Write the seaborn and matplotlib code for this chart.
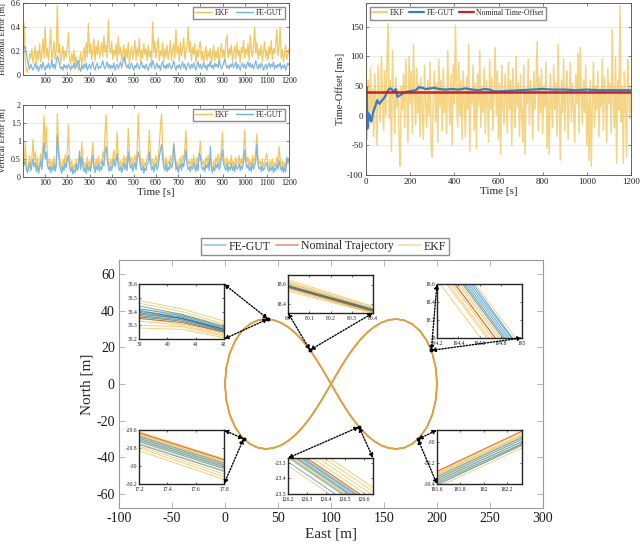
import numpy as np
import pandas as pd
import matplotlib
matplotlib.use('Agg')
import matplotlib.pyplot as plt
import seaborn as sns
from matplotlib.ticker import FuncFormatter
from matplotlib.patches import ConnectionPatch
from matplotlib.lines import Line2D

sns.set_style('ticks')
plt.rcParams['font.family'] = ['Liberation Serif', 'DejaVu Serif']
plt.rcParams['axes.unicode_minus'] = False

# ---------------- data ----------------
time_s = np.arange(0, 1201, 5)

horiz_ekf = [
    0.28, 0.43, 0.12, 0.04, 0.02, 0.08, 0.18, 0.14, 0.22, 0.10,
    0.16, 0.24, 0.09, 0.20, 0.13, 0.26, 0.11, 0.18, 0.30, 0.14,
    0.40, 0.15, 0.22, 0.12, 0.25, 0.38, 0.10, 0.19, 0.28, 0.13,
    0.21, 0.58, 0.18, 0.26, 0.09, 0.17, 0.24, 0.12, 0.20, 0.15,
    0.23, 0.35, 0.14, 0.09, 0.18, 0.11, 0.21, 0.07, 0.15, 0.10,
    0.04, 0.12, 0.19, 0.08, 0.16, 0.23, 0.11, 0.27, 0.15, 0.43,
    0.18, 0.26, 0.13, 0.22, 0.30, 0.12, 0.24, 0.17, 0.29, 0.14,
    0.20, 0.27, 0.15, 0.33, 0.19, 0.25, 0.14, 0.46, 0.22, 0.18,
    0.28, 0.13, 0.21, 0.16, 0.26, 0.11, 0.32, 0.17, 0.23, 0.12,
    0.19, 0.25, 0.10, 0.22, 0.14, 0.27, 0.09, 0.18, 0.24, 0.13,
    0.20, 0.29, 0.12, 0.23, 0.16, 0.30, 0.11, 0.21, 0.14, 0.26,
    0.17, 0.22, 0.12, 0.25, 0.15, 0.20, 0.10, 0.44, 0.19, 0.28,
    0.14, 0.23, 0.31, 0.12, 0.20, 0.16, 0.27, 0.11, 0.22, 0.15,
    0.25, 0.13, 0.19, 0.29, 0.12, 0.21, 0.26, 0.14, 0.38, 0.18,
    0.24, 0.11, 0.27, 0.16, 0.22, 0.31, 0.13, 0.20, 0.25, 0.40,
    0.19, 0.28, 0.12, 0.23, 0.17, 0.26, 0.10, 0.21, 0.15, 0.24,
    0.28, 0.13, 0.20, 0.09, 0.18, 0.24, 0.12, 0.19, 0.15, 0.22,
    0.10, 0.17, 0.25, 0.12, 0.20, 0.14, 0.23, 0.09, 0.18, 0.26,
    0.15, 0.21, 0.12, 0.28, 0.33, 0.14, 0.22, 0.17, 0.25, 0.11,
    0.19, 0.24, 0.13, 0.27, 0.16, 0.21, 0.10, 0.23, 0.18, 0.29,
    0.14, 0.22, 0.17, 0.26, 0.12, 0.33, 0.20, 0.15, 0.24, 0.40,
    0.18, 0.27, 0.13, 0.22, 0.16, 0.25, 0.11, 0.20, 0.28, 0.14,
    0.21, 0.12, 0.24, 0.17, 0.29, 0.13, 0.22, 0.18, 0.26, 0.38,
    0.16, 0.23, 0.40, 0.14, 0.21, 0.11, 0.19, 0.25, 0.13, 0.17,
    0.22]

horiz_gut = [
    0.26, 0.22, 0.24, 0.18, 0.12, 0.08, 0.05, 0.09, 0.06, 0.04,
    0.07, 0.10, 0.05, 0.08, 0.03, 0.06, 0.09, 0.05, 0.11, 0.07,
    0.04, 0.08, 0.06, 0.10, 0.05, 0.07, 0.12, 0.06, 0.09, 0.05,
    0.11, 0.16, 0.13, 0.08, 0.05, 0.07, 0.04, 0.09, 0.06, 0.08,
    0.05, 0.09, 0.07, 0.04, 0.08, 0.06, 0.10, 0.05, 0.07, 0.11,
    0.12, 0.06, 0.03, 0.08, 0.05, 0.09, 0.06, 0.10, 0.04, 0.07,
    0.09, 0.05, 0.08, 0.11, 0.06, 0.04, 0.08, 0.10, 0.05, 0.07,
    0.06, 0.09, 0.12, 0.07, 0.05, 0.08, 0.11, 0.06, 0.09, 0.05,
    0.08, 0.06, 0.10, 0.04, 0.07, 0.09, 0.05, 0.08, 0.11, 0.06,
    0.10, 0.15, 0.12, 0.08, 0.06, 0.09, 0.05, 0.07, 0.10, 0.06,
    0.04, 0.08, 0.06, 0.10, 0.07, 0.05, 0.09, 0.11, 0.06, 0.08,
    0.05, 0.09, 0.07, 0.04, 0.08, 0.10, 0.06, 0.12, 0.09, 0.05,
    0.07, 0.10, 0.06, 0.08, 0.04, 0.09, 0.11, 0.06, 0.08, 0.05,
    0.09, 0.06, 0.10, 0.07, 0.05, 0.08, 0.12, 0.07, 0.04, 0.08,
    0.06, 0.09, 0.05, 0.08, 0.11, 0.06, 0.09, 0.04, 0.07, 0.10,
    0.08, 0.05, 0.09, 0.06, 0.10, 0.07, 0.04, 0.08, 0.11, 0.06,
    0.09, 0.05, 0.07, 0.10, 0.06, 0.08, 0.04, 0.09, 0.07, 0.11,
    0.06, 0.08, 0.05, 0.10, 0.07, 0.09, 0.06, 0.12, 0.08, 0.05,
    0.07, 0.10, 0.13, 0.09, 0.06, 0.08, 0.05, 0.09, 0.07, 0.10,
    0.06, 0.08, 0.11, 0.05, 0.09, 0.07, 0.04, 0.08, 0.10, 0.06,
    0.09, 0.05, 0.08, 0.11, 0.07, 0.10, 0.06, 0.09, 0.05, 0.08,
    0.12, 0.07, 0.05, 0.09, 0.06, 0.10, 0.08, 0.04, 0.07, 0.09,
    0.05, 0.08, 0.10, 0.06, 0.09, 0.07, 0.11, 0.05, 0.08, 0.06,
    0.09, 0.07, 0.10, 0.05, 0.08, 0.06, 0.09, 0.04, 0.07, 0.10,
    0.08]

vert_ekf = [
    0.55, 0.30, 0.95, 0.40, 0.18, 0.35, 0.60, 0.25, 0.50, 1.05,
    0.45, 0.70, 0.28, 0.55, 0.20, 0.40, 0.65, 0.35, 0.90, 1.70,
    0.80, 1.40, 0.60, 0.35, 0.50, 0.22, 0.45, 0.30, 0.55, 0.25,
    0.40, 1.75, 0.90, 0.55, 0.35, 0.20, 0.48, 0.30, 0.62, 0.40,
    0.70, 1.45, 0.55, 0.30, 0.45, 0.15, 0.35, 0.22, 0.50, 0.28,
    0.40, 0.60, 0.30, 0.95, 0.50, 0.25, 0.42, 0.18, 0.55, 0.30,
    0.45, 0.25, 0.60, 0.95, 0.40, 0.20, 0.50, 0.32, 0.58, 0.28,
    0.45, 0.35, 0.70, 0.50, 1.20, 1.72, 0.85, 0.40, 0.25, 0.50,
    0.30, 0.55, 0.75, 0.45, 0.60, 1.25, 0.50, 0.30, 0.45, 0.22,
    0.40, 0.60, 0.35, 0.55, 0.30, 1.35, 0.70, 0.40, 0.55, 0.25,
    0.45, 0.60, 0.35, 0.80, 1.75, 0.90, 0.45, 0.30, 0.50, 0.20,
    0.40, 0.30, 0.55, 0.65, 1.30, 0.60, 0.35, 0.50, 0.25, 0.45,
    0.60, 0.35, 0.50, 0.90, 1.40, 1.75, 0.80, 0.45, 0.30, 0.55,
    0.25, 0.45, 0.35, 0.60, 0.40, 0.55, 0.95, 0.50, 0.30, 0.45,
    0.20, 0.40, 0.55, 0.30, 0.60, 0.45, 0.80, 1.30, 0.55, 0.35,
    0.45, 0.25, 0.50, 0.35, 0.60, 0.40, 0.25, 0.55, 0.30, 0.65,
    1.00, 0.50, 0.35, 0.45, 0.25, 0.55, 0.40, 0.60, 0.30, 0.50,
    0.35, 0.20, 0.45, 0.30, 0.55, 0.40, 0.65, 0.35, 0.50, 0.80,
    1.25, 0.60, 0.40, 0.30, 0.55, 0.25, 0.45, 0.35, 0.60, 0.30,
    0.45, 0.25, 0.55, 0.35, 0.40, 0.60, 0.30, 0.50, 0.35, 0.70,
    1.30, 0.65, 0.40, 0.55, 0.30, 0.45, 0.25, 0.60, 0.35, 0.50,
    0.75, 1.20, 0.55, 0.35, 0.45, 0.25, 0.50, 0.30, 0.40, 0.55,
    0.65, 0.35, 0.25, 0.45, 0.30, 0.50, 0.20, 0.40, 0.30, 0.55,
    0.35, 0.85, 0.50, 0.30, 0.45, 0.20, 0.40, 0.25, 0.50, 0.35,
    0.55]

vert_gut = [
    0.60, 0.35, 0.45, 0.20, 0.12, 0.25, 0.40, 0.18, 0.30, 0.50,
    0.28, 0.40, 0.15, 0.32, 0.10, 0.25, 0.45, 0.20, 0.55, 0.95,
    0.50, 0.70, 0.35, 0.20, 0.30, 0.12, 0.28, 0.18, 0.35, 0.15,
    0.30, 1.15, 0.65, 0.35, 0.20, 0.10, 0.30, 0.18, 0.40, 0.25,
    0.45, 0.60, 0.30, 0.15, 0.28, 0.08, 0.20, 0.12, 0.35, 0.18,
    0.25, 0.72, 0.20, 0.55, 0.30, 0.15, 0.25, 0.10, 0.35, 0.18,
    0.28, 0.15, 0.40, 0.60, 0.25, 0.12, 0.30, 0.20, 0.35, 0.15,
    0.28, 0.20, 0.45, 0.30, 0.65, 0.85, 0.50, 0.25, 0.15, 0.30,
    0.18, 0.35, 0.50, 0.28, 0.40, 0.65, 0.30, 0.18, 0.28, 0.12,
    0.25, 0.40, 0.20, 0.35, 0.18, 0.70, 0.42, 0.25, 0.35, 0.15,
    0.28, 0.40, 0.20, 0.50, 0.70, 0.55, 0.28, 0.18, 0.30, 0.10,
    0.25, 0.18, 0.35, 0.40, 0.70, 0.38, 0.20, 0.30, 0.15, 0.28,
    0.38, 0.20, 0.30, 0.55, 0.75, 0.90, 0.50, 0.28, 0.18, 0.35,
    0.15, 0.28, 0.20, 0.40, 0.25, 0.35, 0.90, 0.60, 0.20, 0.30,
    0.12, 0.25, 0.35, 0.18, 0.40, 0.28, 0.50, 0.75, 0.35, 0.20,
    0.28, 0.15, 0.30, 0.22, 0.40, 0.25, 0.15, 0.35, 0.18, 0.65,
    0.60, 0.32, 0.20, 0.28, 0.15, 0.35, 0.25, 0.40, 0.18, 0.85,
    0.22, 0.12, 0.28, 0.18, 0.35, 0.25, 0.40, 0.20, 0.30, 0.50,
    0.75, 0.38, 0.25, 0.18, 0.35, 0.15, 0.28, 0.20, 0.38, 0.18,
    0.28, 0.15, 0.35, 0.22, 0.25, 0.38, 0.18, 0.30, 0.22, 0.45,
    0.75, 0.40, 0.25, 0.35, 0.18, 0.28, 0.15, 0.38, 0.22, 0.30,
    0.45, 0.90, 0.35, 0.22, 0.28, 0.15, 0.30, 0.18, 0.25, 0.35,
    0.40, 0.22, 0.15, 0.28, 0.18, 0.30, 0.12, 0.25, 0.18, 0.35,
    0.22, 0.45, 0.30, 0.18, 0.28, 0.12, 0.25, 0.15, 0.55, 0.40,
    0.50]

offset_ekf = [
    135, -40, 60, -20, 80, 5, 45, -35, 70, 10,
    -50, 85, 20, -10, 100, 30, -25, 75, 0, 90,
    155, -5, 60, -60, 110, 25, -30, 65, 15, 45,
    -40, -85, 50, 10, 70, -20, 95, 30, -45, 100,
    20, 75, -30, 120, 40, -15, 80, 5, 55, -35,
    65, 10, -40, 85, 25, -20, 60, 0, 90, -55,
    -70, 40, 75, -10, 55, -45, 95, 15, 60, -25,
    80, 5, 45, -30, 110, 30, -15, 70, -50, 85,
    20, 152, 35, -20, 90, 0, 60, -40, 75, 25,
    -35, 65, 10, 120, -60, 45, 20, 85, -25, 55,
    -55, 70, 15, 110, -20, 50, 5, 80, -30, 60,
    25, -45, 95, 10, 65, -25, 45, 115, 0, 75,
    -40, 55, -65, 85, 20, -15, 70, 35, -30, 90,
    10, 60, -50, 80, 25, -20, 100, 15, 55, -35,
    70, 0, -45, 85, -65, 40, 20, 95, -15, 60,
    30, -40, 75, 10, 55, 125, -25, 65, 5, 80,
    -30, 50, 15, 90, -55, 35, -65, 70, 20, -20,
    85, 10, 55, -35, 120, 25, -75, 60, 5, 95,
    -25, 45, 75, -40, 30, 90, -10, 55, 15, -45,
    70, 20, 105, -30, 115, 40, -15, 60, 5, 85,
    -50, 35, -75, 60, -85, 20, 90, -20, 50, 10,
    75, -35, 45, 15, 95, -25, 65, 30, -45, 80,
    20, 55, -30, 145, 25, -20, 100, -80, 60, 10,
    185, -10, 50, -80, 75, 20, -70, 95, 35, -5,
    45]

offset_gut_t = [0, 3, 6, 9, 12, 16, 20, 24, 28, 32, 38, 44, 50, 56, 62, 70, 78, 86, 94,
                102, 110, 118, 126, 134, 142, 150, 160, 170, 180, 195, 210, 225, 240, 255,
                270, 290, 310, 330, 360, 390, 420, 450, 480, 510, 540, 560, 580, 600, 650,
                700, 750, 800, 850, 900, 950, 1000, 1050, 1100, 1150, 1200]
offset_gut = [0, 48, -22, 5, -8, 2, -5, -10, -3, 5, 12, 18, 26, 22, 20, 25, 28, 32, 38,
              44, 46, 44, 40, 45, 32, 33, 36, 38, 40, 41, 42, 43, 48, 47,
              45, 46, 47, 45, 44, 45, 44, 46, 44, 43, 45, 44, 41, 41, 42,
              43, 44, 45, 44, 44, 43, 44, 43, 43, 43, 43]
nominal_t = [0, 1200]
nominal_offset = [40, 40]

traj_east = [200.00, 198.87, 195.60, 190.53, 184.13, 176.90, 169.28, 161.64, 154.21, 147.14,
             140.51, 134.33, 128.57, 123.20, 118.16, 113.39, 108.82, 104.37, 100.00, 95.63,
             91.18, 86.61, 81.84, 76.80, 71.43, 65.67, 59.49, 52.86, 45.79, 38.36,
             30.72, 23.10, 15.87, 9.47, 4.40, 1.13, 0.00, 1.13, 4.40, 9.47,
             15.87, 23.10, 30.72, 38.36, 45.79, 52.86, 59.49, 65.67, 71.43, 76.80,
             81.84, 86.61, 91.18, 95.63, 100.00, 104.37, 108.82, 113.39, 118.16, 123.20,
             128.57, 134.33, 140.51, 147.14, 154.21, 161.64, 169.28, 176.90, 184.13, 190.53,
             195.60, 198.87, 200.00]
traj_north = [0.00, 8.62, 16.60, 23.43, 28.77, 32.50, 34.64, 35.35, 34.84, 33.33,
              31.03, 28.12, 24.74, 21.03, 17.07, 12.93, 8.68, 4.36, 0.00, -4.36,
              -8.68, -12.93, -17.07, -21.03, -24.74, -28.12, -31.03, -33.33, -34.84, -35.35,
              -34.64, -32.50, -28.77, -23.43, -16.60, -8.62, 0.00, 8.62, 16.60, 23.43,
              28.77, 32.50, 34.64, 35.35, 34.84, 33.33, 31.03, 28.12, 24.74, 21.03,
              17.07, 12.93, 8.68, 4.36, 0.00, -4.36, -8.68, -12.93, -17.07, -21.03,
              -24.74, -28.12, -31.03, -33.33, -34.84, -35.35, -34.64, -32.50, -28.77, -23.43,
              -16.60, -8.62, 0.00]

zoom_east = [40.5, 80.2, 194.6, 17.5, 126.4, 182.0]
zoom_north = [35.4, 18.5, 18.3, -29.9, -23.4, -30.1]

# inset 1 : north values at common east points
in1_east = [39, 40.5, 42]
in1_ekf = [[35.48, 35.42, 35.33], [35.46, 35.40, 35.31], [35.42, 35.38, 35.30], [35.40, 35.37, 35.29],
           [35.38, 35.35, 35.28], [35.37, 35.33, 35.26], [35.35, 35.31, 35.24], [35.33, 35.30, 35.23],
           [35.30, 35.29, 35.22], [35.28, 35.27, 35.21], [35.39, 35.36, 35.27], [35.36, 35.34, 35.25]]
in1_gut = [[35.44, 35.38, 35.29], [35.42, 35.37, 35.28], [35.40, 35.36, 35.27], [35.39, 35.35, 35.27],
           [35.38, 35.35, 35.26], [35.37, 35.34, 35.26], [35.36, 35.33, 35.25], [35.41, 35.35, 35.27]]
in1_nom = [[35.35, 35.32, 35.25]]

# inset 2
in2_east = [80.0, 80.4]
in2_ekf = [[18.65, 18.37], [18.63, 18.36], [18.62, 18.34], [18.60, 18.33], [18.59, 18.33], [18.58, 18.32],
           [18.57, 18.31], [18.56, 18.31], [18.55, 18.30], [18.53, 18.30], [18.61, 18.35]]
in2_gut = [[18.59, 18.34], [18.585, 18.335], [18.58, 18.33], [18.575, 18.325], [18.57, 18.32]]
in2_nom = [[18.575, 18.32]]

# inset 3 : east values at common north points
in3_north = [18.6, 18.0]
in3_ekf = [[194.23, 194.61], [194.29, 194.67], [194.31, 194.69], [194.34, 194.72], [194.36, 194.74],
           [194.40, 194.78], [194.45, 194.83], [194.56, 194.94], [194.42, 194.80]]
in3_gut = [[194.44, 194.82], [194.46, 194.84], [194.48, 194.86], [194.50, 194.88], [194.52, 194.90],
           [194.54, 194.91]]
in3_nom = [[194.37, 194.75]]

# inset 4 : north values at common east points
in4_east = [17.2, 17.8]
in4_ekf = [[-29.62, -29.92], [-29.64, -29.94], [-29.66, -29.96], [-29.68, -29.98], [-29.70, -30.00],
           [-29.72, -30.02], [-29.75, -30.05], [-29.78, -30.09], [-29.80, -30.12], [-29.83, -30.15],
           [-29.65, -29.95]]
in4_gut = [[-29.67, -29.97], [-29.69, -29.99], [-29.71, -30.01], [-29.73, -30.03], [-29.76, -30.06]]
in4_nom = [[-29.63, -29.93]]

# inset 5 : east values at common north points
in5_north = [-23.27, -23.50]
in5_ekf = [[126.14, 126.42], [126.20, 126.48], [126.23, 126.51], [126.26, 126.54], [126.29, 126.57],
           [126.33, 126.61], [126.36, 126.64], [126.39, 126.67], [126.42, 126.70], [126.22, 126.50]]
in5_gut = [[126.17, 126.45], [126.21, 126.49], [126.24, 126.52], [126.25, 126.53], [126.27, 126.55],
           [126.28, 126.56]]
in5_nom = [[126.30, 126.58]]

# inset 6 : north values at common east points
in6_east = [181.6, 182.33]
in6_ekf = [[-30.29, -29.91], [-30.30, -29.93], [-30.31, -29.94], [-30.32, -29.95], [-30.34, -29.97],
           [-30.36, -30.00], [-30.38, -30.02], [-30.40, -30.04], [-30.43, -30.06]]
in6_gut = [[-30.33, -29.96], [-30.35, -29.98], [-30.37, -30.00], [-30.39, -30.02], [-30.41, -30.03]]
in6_nom = [[-30.28, -29.90]]

# ---------------- style ----------------
C_EKF = '#EDB120'
C_GUT = '#0072BD'
C_NOM = '#D95319'
C_GUT_LIGHT = '#6fb1e4'

W, H = 640, 545
fig = plt.figure(figsize=(6.4, 5.45), dpi=100)


def px_axes(x0, y0, x1, y1):
    return fig.add_axes([x0 / W, 1 - y1 / H, (x1 - x0) / W, (y1 - y0) / H])


fmt = FuncFormatter(lambda v, p: f'{v:g}')


def style_box(ax, color='#4d4d4d', lw=0.6, size=6, length=2.5, pad=2, xpad=None):
    for s in ax.spines.values():
        s.set_color(color)
        s.set_linewidth(lw)
        s.set_visible(True)
    ax.tick_params(direction='in', top=True, right=True, length=length, width=0.5,
                   color=color, labelcolor='#1a1a1a', labelsize=size, pad=pad)
    if xpad is not None:
        ax.tick_params(axis='x', pad=xpad)
    ax.xaxis.set_major_formatter(fmt)
    ax.yaxis.set_major_formatter(fmt)


def series(ax, x, y, **kw):
    sns.lineplot(x=x, y=y, ax=ax, estimator=None, sort=False, legend=False, **kw)


leg_kw = dict(fancybox=False, edgecolor='#8c8c8c', framealpha=1)

# ---- top-left: horizontal error
ax1 = px_axes(23, 3, 289, 75)
series(ax1, time_s, horiz_ekf, color=C_EKF, alpha=0.7, lw=0.9)
series(ax1, time_s, horiz_gut, color=C_GUT_LIGHT, alpha=0.9, lw=0.9)
ax1.set_xlim(0, 1200)
ax1.set_ylim(0, 0.6)
ax1.set_xticks(range(100, 1201, 100))
ax1.set_yticks([0, 0.2, 0.4, 0.6])
style_box(ax1, size=5.8, pad=1.5)
ax1.grid(axis='y', color='#e3e3e3', lw=0.5)
ax1.set_axisbelow(True)
ax1.set_ylabel('Horizontal Error [m]', fontsize=6.2)
ax1.yaxis.set_label_coords(-0.06, 0.5)
ax1.set_xlabel('')
h_top = [Line2D([], [], color=C_EKF, alpha=0.75, lw=1.0), Line2D([], [], color=C_GUT_LIGHT, lw=1.0)]
top_leg = dict(loc='upper right', ncol=2, fontsize=5.5, handlelength=2.2, columnspacing=0.9,
               handletextpad=0.4, borderpad=0.3, borderaxespad=0.5, **leg_kw)
ax1.legend(h_top, ['EKF', 'FE-GUT'], **top_leg)

# ---- vertical error
ax2 = px_axes(23, 105, 289, 177)
series(ax2, time_s, vert_ekf, color=C_EKF, alpha=0.7, lw=0.9)
series(ax2, time_s, vert_gut, color=C_GUT_LIGHT, alpha=0.9, lw=0.9)
ax2.set_xlim(0, 1200)
ax2.set_ylim(0, 2)
ax2.set_xticks(range(100, 1201, 100))
ax2.set_yticks([0, 0.5, 1, 1.5, 2])
style_box(ax2, size=5.8, pad=1.5)
ax2.grid(axis='y', color='#e3e3e3', lw=0.5)
ax2.set_axisbelow(True)
ax2.set_ylabel('Vertical Error [m]', fontsize=6.5)
ax2.yaxis.set_label_coords(-0.06, 0.5)
ax2.set_xlabel('Time [s]', fontsize=8, labelpad=1)
ax2.legend(h_top, ['EKF', 'FE-GUT'], **top_leg)

# ---- top-right: time offset
ax3 = px_axes(366, 3, 631, 175)
series(ax3, time_s, offset_ekf, color=C_EKF, alpha=0.55, lw=1.1)
series(ax3, offset_gut_t, offset_gut, color='#3a7cc3', lw=1.6)
series(ax3, nominal_t, nominal_offset, color='#d01c24', lw=1.8)
ax3.set_xlim(0, 1200)
ax3.set_ylim(-100, 190)
ax3.set_xticks(range(0, 1201, 200))
ax3.set_yticks([-100, -50, 0, 50, 100, 150])
style_box(ax3, size=6.3)
ax3.grid(axis='y', color='#e3e3e3', lw=0.5)
ax3.set_axisbelow(True)
ax3.set_ylabel('Time-Offset [ms]', fontsize=7.5, labelpad=1)
ax3.set_xlabel('Time [s]', fontsize=8, labelpad=1)
h3 = [Line2D([], [], color=C_EKF, alpha=0.6, lw=1.6), Line2D([], [], color='#3a7cc3', lw=1.6),
      Line2D([], [], color='#d01c24', lw=1.6)]
ax3.legend(h3, ['EKF', 'FE-GUT', 'Nominal Time-Offset'], loc='upper left', ncol=3, fontsize=5.6,
           handlelength=1.9, columnspacing=0.6, handletextpad=0.35, borderpad=0.3,
           borderaxespad=0.5, **leg_kw)

# ---- bottom: trajectory
axm = px_axes(119, 260, 543, 508)
series(axm, traj_east, traj_north, color=C_GUT, lw=1.0, alpha=0.6)
series(axm, traj_east, traj_north, color=C_NOM, lw=1.0, alpha=0.6)
series(axm, traj_east, traj_north, color='#E9A22C', lw=1.2)
axm.set_xlim(-100, 300)
axm.set_ylim(-67.5, 67.5)
axm.set_xticks(range(-100, 301, 50))
axm.set_yticks(range(-60, 61, 20))
style_box(axm, color='#9a9a9a', lw=0.8, size=10, length=4, pad=3)
axm.set_xlabel('East [m]', fontsize=11, labelpad=2)
axm.set_ylabel('North [m]', fontsize=11, labelpad=2)
sns.scatterplot(x=zoom_east, y=zoom_north, ax=axm, color='k', s=10, zorder=5, legend=False)

hm = [Line2D([], [], color=C_GUT, alpha=0.4, lw=1.2), Line2D([], [], color=C_NOM, alpha=0.6, lw=1.2),
      Line2D([], [], color=C_EKF, alpha=0.45, lw=1.2)]
fig.legend(hm, ['FE-GUT', 'Nominal Trajectory', 'EKF'], loc='center',
           bbox_to_anchor=(325 / W, 1 - 246.5 / H), ncol=3, fontsize=8.5, handlelength=1.9,
           columnspacing=0.4, handletextpad=0.25, borderpad=0.2, **leg_kw)


def lines_df(xs_list, ys_list):
    rows = []
    for i, (xs, ys) in enumerate(zip(xs_list, ys_list)):
        for x, y in zip(xs, ys):
            rows.append((i, x, y))
    return pd.DataFrame(rows, columns=['run', 'x', 'y'])


def draw_group(ax, xs_list, ys_list, color, alpha, lw=0.7):
    df = lines_df(xs_list, ys_list)
    sns.lineplot(data=df, x='x', y='y', units='run', estimator=None, sort=False,
                 color=color, alpha=alpha, lw=lw, ax=ax, legend=False)


def make_inset(rect, xlim, ylim, xticks, yticks, groups):
    ax = px_axes(*rect)
    for xs_list, ys_list, color, alpha in groups:
        draw_group(ax, xs_list, ys_list, color, alpha)
    ax.set_xlim(*xlim)
    ax.set_ylim(*ylim)
    ax.set_xticks(xticks)
    ax.set_yticks(yticks)
    style_box(ax, color='#262626', lw=1.0, size=4.0, length=1.5, pad=1, xpad=2.2)
    ax.set_xlabel('')
    ax.set_ylabel('')
    ax.set_facecolor('white')
    return ax


def by_x(xpts, ylists):
    return [xpts] * len(ylists), ylists


def by_y(ypts, xlists):
    return xlists, [ypts] * len(xlists)


def grp(pair, color, alpha):
    return (pair[0], pair[1], color, alpha)


in1 = make_inset((139, 284, 224, 339), (39, 42), (35.2, 35.6), [39, 40, 41, 42],
                 [35.2, 35.3, 35.4, 35.5, 35.6],
                 [grp(by_x(in1_east, in1_ekf), C_EKF, 0.6), grp(by_x(in1_east, in1_gut), C_GUT, 0.6),
                  grp(by_x(in1_east, in1_nom), C_NOM, 0.9)])
in2 = make_inset((288, 275, 373, 313), (80, 80.4), (18.3, 18.7), [80, 80.1, 80.2, 80.3, 80.4],
                 [18.4, 18.6],
                 [grp(by_x(in2_east, in2_ekf), C_EKF, 0.6), grp(by_x(in2_east, in2_gut), C_GUT, 0.6),
                  grp(by_x(in2_east, in2_nom), C_NOM, 0.9)])
in3 = make_inset((437, 284, 522, 338), (194.2, 195), (18, 18.6), [194.2, 194.4, 194.6, 194.8, 195],
                 [18, 18.2, 18.4, 18.6],
                 [grp(by_y(in3_north, in3_ekf), C_EKF, 0.6), grp(by_y(in3_north, in3_gut), C_GUT, 0.6),
                  grp(by_y(in3_north, in3_nom), C_NOM, 0.9)])
in4 = make_inset((139, 430, 224, 484), (17.2, 17.8), (-30.2, -29.6), [17.2, 17.4, 17.6, 17.8],
                 [-30.2, -30, -29.8, -29.6],
                 [grp(by_x(in4_east, in4_ekf), C_EKF, 0.6), grp(by_x(in4_east, in4_gut), C_GUT, 0.6),
                  grp(by_x(in4_east, in4_nom), C_NOM, 0.9)])
in5 = make_inset((288, 458, 373, 494), (126.2, 126.65), (-23.5, -23.27),
                 [126.2, 126.3, 126.4, 126.5, 126.6], [-23.5, -23.4, -23.3],
                 [grp(by_y(in5_north, in5_ekf), C_EKF, 0.6), grp(by_y(in5_north, in5_gut), C_GUT, 0.6),
                  grp(by_y(in5_north, in5_nom), C_NOM, 0.9)])
in6 = make_inset((437, 430, 522, 484), (181.6, 182.33), (-30.4, -29.89),
                 [181.6, 181.8, 182, 182.2], [-30.4, -30.2, -30],
                 [grp(by_x(in6_east, in6_ekf), C_EKF, 0.6), grp(by_x(in6_east, in6_gut), C_GUT, 0.6),
                  grp(by_x(in6_east, in6_nom), C_NOM, 0.9)])


def connect(pt, inset, corners):
    for c in corners:
        con = ConnectionPatch(xyA=pt, coordsA='data', axesA=axm, xyB=c, coordsB='axes fraction',
                              axesB=inset, arrowstyle='<|-|>', linestyle=(0, (1, 1.2)), lw=1.0,
                              color='k', mutation_scale=6, shrinkA=0, shrinkB=0, zorder=10)
        fig.add_artist(con)


connect((zoom_east[0], zoom_north[0]), in1, [(1, 1), (1, 0)])
connect((zoom_east[1], zoom_north[1]), in2, [(0, 0), (1, 0)])
connect((zoom_east[2], zoom_north[2]), in3, [(0, 1), (1, 0)])
connect((zoom_east[3], zoom_north[3]), in4, [(1, 1), (1, 0)])
connect((zoom_east[4], zoom_north[4]), in5, [(0, 1), (1, 1)])
connect((zoom_east[5], zoom_north[5]), in6, [(0, 1), (0, 0)])

fig.savefig('out.png', dpi=100)
